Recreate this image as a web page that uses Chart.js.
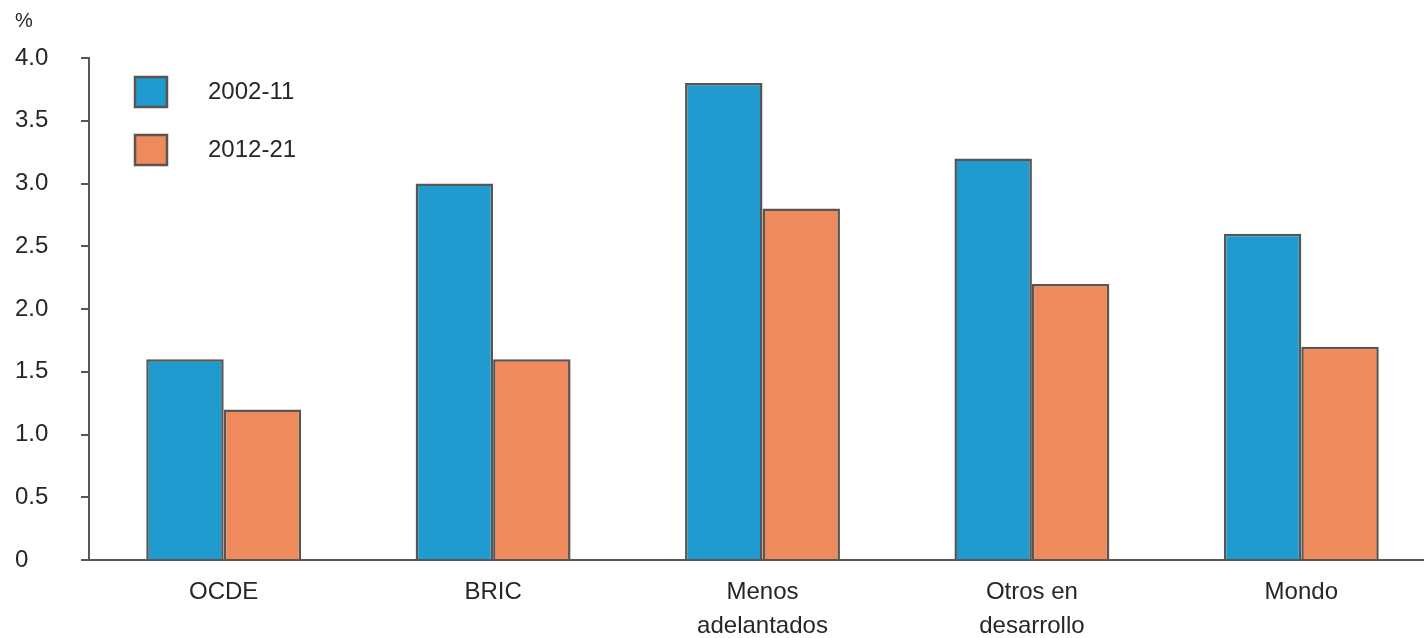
<!DOCTYPE html>
<html>
<head>
<meta charset="utf-8">
<script src="https://cdn.jsdelivr.net/npm/chart.js@4"></script>
<style>
  html, body { margin: 0; padding: 0; background: #fff; overflow: hidden; }
  #wrap { width: 1436px; height: 638px; position: relative; }
</style>
</head>
<body>
<div id="wrap"><canvas id="chart"></canvas></div>
<script>
const categories = ['OCDE', 'BRIC', ['Menos', 'adelantados'], ['Otros en', 'desarrollo'], 'Mondo'];
const series2002 = [1.6, 3.0, 3.8, 3.2, 2.6];
const series2012 = [1.2, 1.6, 2.8, 2.2, 1.7];
const seriesNames = ['2002-11', '2012-21'];
const yTicks = [0, 0.5, 1.0, 1.5, 2.0, 2.5, 3.0, 3.5, 4.0];

const FONT = '"Liberation Sans", Arial, sans-serif';
const TEXT = '#262626';
const EDGE = '#5a5550';

// legend drawn inside the plot, top-left
const insideLegend = {
    id: 'insideLegend',
    afterDraw(chart) {
        const ctx = chart.ctx;
        const x = chart.chartArea.left + 46;
        ctx.save();
        chart.data.datasets.forEach((ds, i) => {
            const y = 77 + i * 58;
            ctx.fillStyle = ds.backgroundColor;
            ctx.fillRect(x, y, 32, 30);
            ctx.strokeStyle = EDGE;
            ctx.lineWidth = 2.5;
            ctx.strokeRect(x, y, 32, 30);
            ctx.fillStyle = TEXT;
            ctx.font = '24px ' + FONT;
            ctx.textBaseline = 'middle';
            ctx.fillText(ds.label, x + 73, y + 15);
        });
        ctx.restore();
    },
};

new Chart(document.getElementById('chart'), {
    type: 'bar',
    data: {
        labels: categories,
        datasets: [
            {
                label: seriesNames[0],
                data: series2002,
                backgroundColor: '#1f9bd0',
                borderColor: EDGE,
                borderWidth: 2.5,
                borderSkipped: 'bottom',
                barPercentage: 1,
                categoryPercentage: 0.575,
            },
            {
                label: seriesNames[1],
                data: series2012,
                backgroundColor: '#ee8a5b',
                borderColor: EDGE,
                borderWidth: 2.5,
                borderSkipped: 'bottom',
                barPercentage: 1,
                categoryPercentage: 0.575,
            },
        ],
    },
    options: {
        responsive: true,
        maintainAspectRatio: false,
        animation: false,
        layout: { padding: { left: 15, right: 0, top: 0, bottom: 0 } },
        plugins: {
            legend: { display: false },
            tooltip: { enabled: false },
            title: {
                display: true,
                text: '%',
                align: 'start',
                color: TEXT,
                font: { family: FONT, size: 20, weight: 'normal' },
                padding: { top: 9, bottom: 25 },
            },
        },
        scales: {
            x: {
                grid: { display: false, drawTicks: false },
                border: { display: true, color: EDGE, width: 2 },
                ticks: {
                    color: TEXT,
                    padding: 15,
                    maxRotation: 0,
                    autoSkip: false,
                    font: { family: FONT, size: 24, lineHeight: 1.42 },
                },
                afterFit: (s) => { s.height = 78; },
            },
            y: {
                min: 0,
                max: 4,
                afterBuildTicks: (s) => { s.ticks = yTicks.map((v) => ({ value: v })); },
                grid: {
                    drawOnChartArea: false,
                    drawTicks: true,
                    tickLength: 8,
                    color: EDGE,
                    lineWidth: 2,
                },
                border: { display: true, color: EDGE, width: 2 },
                ticks: {
                    color: TEXT,
                    crossAlign: 'far',
                    font: { family: FONT, size: 24 },
                    callback: (v) => (v === 0 ? '0' : v.toFixed(1)),
                },
                afterFit: (s) => { s.width = 74; },
            },
        },
    },
    plugins: [insideLegend],
});
</script>
</body>
</html>
